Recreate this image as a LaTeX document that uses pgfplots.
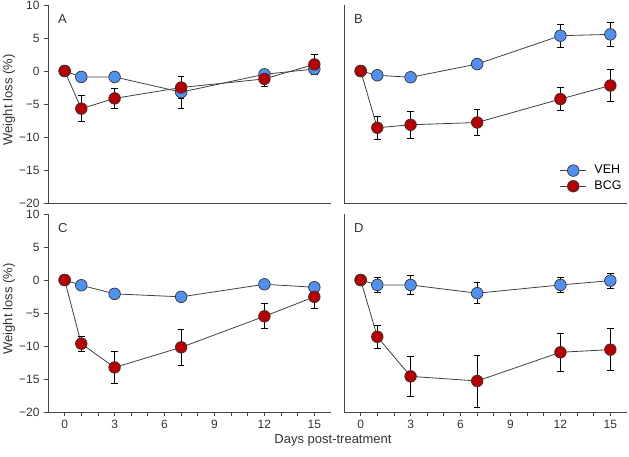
\documentclass[border=0pt]{standalone}
\usepackage{fontspec}
\setmainfont{Liberation Sans}
\usepackage{pgfplots}
\pgfplotsset{compat=1.18}
\definecolor{vehc}{RGB}{80,145,240}
\definecolor{bcgc}{RGB}{185,0,0}
\definecolor{axc}{RGB}{70,70,70}
\pgfplotsset{
  panel/.style={
    scale only axis, width=283pt, height=198pt,
    xmin=-1, xmax=16, ymin=-20, ymax=10,
    axis x line*=bottom, axis y line*=left,
    axis line style={axc, line width=0.9pt, -},
    tick style={axc, line width=0.8pt},
    tick align=outside,
    major tick length=4pt, minor tick length=4pt,
    /pgf/number format/assume math mode=true,
    ticklabel style={font=\fontsize{12}{14}\selectfont, text=black!80},
    clip=false,
  },
  veh/.style={color=black!75, line width=0.8pt, mark=*, mark size=5.8pt,
    mark options={fill=vehc, draw=black!80, line width=0.7pt},
    error bars/.cd, y dir=both, y explicit, error mark options={rotate=90, mark size=3.3pt, line width=0.8pt, black}, error bar style={line width=0.8pt, black}},
  bcg/.style={color=black!75, line width=0.8pt, mark=*, mark size=5.8pt,
    mark options={fill=bcgc, draw=black!80, line width=0.7pt},
    error bars/.cd, y dir=both, y explicit, error mark options={rotate=90, mark size=3.3pt, line width=0.8pt, black}, error bar style={line width=0.8pt, black}},
  leftticks/.style={ytick={-20,-15,-10,-5,0,5,10}, yticklabels={−20,−15,−10,−5,0,5,10}},
  noyticks/.style={ytick=\empty},
  bottomticks/.style={xtick={0,3,6,9,12,15}, minor xtick={1,2,4,5,7,8,10,11,13,14}},
  noxticks/.style={xtick=\empty},
}
\begin{document}
\fontsize{13}{15}\selectfont
\begin{tikzpicture}
\useasboundingbox (0,0) rectangle (629pt,456pt);
% Panel A
\begin{axis}[panel, leftticks, noxticks, at={(48pt,253pt)}, anchor=south west]
\addplot[veh] coordinates {(0,0) +- (0,0) (1,-0.9) +- (0,0.3) (3,-0.9) +- (0,0.3) (7,-3.2) +- (0,2.4) (12,-0.5) +- (0,0.3) (15,0.3) +- (0,0.5)};
\addplot[bcg] coordinates {(0,0) +- (0,0) (1,-5.7) +- (0,2.0) (3,-4.15) +- (0,1.5) (7,-2.5) +- (0,1.7) (12,-1.2) +- (0,1.1) (15,1.0) +- (0,1.5)};
\node[anchor=west, font=\fontsize{13}{15}\selectfont, text=black!80] at (rel axis cs:0.02,0.93) {A};
\end{axis}
% Panel B
\begin{axis}[panel, noyticks, noxticks, at={(344pt,253pt)}, anchor=south west,
  legend style={draw=none, fill=none, at={(0.985,0.124)}, anchor=east, font=\fontsize{12.5}{14}\selectfont, row sep=3pt, inner sep=0pt,
    nodes={inner sep=1pt}, /tikz/every odd column/.append style={column sep=7pt}},
  legend cell align=left,
  legend image code/.code={\draw[mark repeat=2,mark phase=2] plot coordinates {(0cm,0cm)(0.45cm,0cm)(0.9cm,0cm)};}]
\addplot[veh] coordinates {(0,0) +- (0,0) (1,-0.65) +- (0,0.3) (3,-0.95) +- (0,0.3) (7,1.05) +- (0,0.3) (12,5.35) +- (0,1.7) (15,5.55) +- (0,1.8)};
\addlegendentry{VEH}
\addplot[bcg] coordinates {(0,0) +- (0,0) (1,-8.6) +- (0,1.7) (3,-8.15) +- (0,2.0) (7,-7.8) +- (0,2.0) (12,-4.25) +- (0,1.7) (15,-2.2) +- (0,2.4)};
\addlegendentry{BCG}
\node[anchor=west, font=\fontsize{13}{15}\selectfont, text=black!80] at (rel axis cs:0.02,0.93) {B};
\end{axis}
% Panel C
\begin{axis}[panel, leftticks, bottomticks, at={(48pt,44pt)}, anchor=south west]
\addplot[veh] coordinates {(0,0) +- (0,0) (1,-0.8) +- (0,0.3) (3,-2.1) +- (0,0.4) (7,-2.55) +- (0,0.5) (12,-0.65) +- (0,0.6) (15,-1.1) +- (0,0.4)};
\addplot[bcg] coordinates {(0,0) +- (0,0) (1,-9.65) +- (0,1.1) (3,-13.25) +- (0,2.4) (7,-10.2) +- (0,2.7) (12,-5.5) +- (0,1.9) (15,-2.55) +- (0,1.8)};
\node[anchor=west, font=\fontsize{13}{15}\selectfont, text=black!80] at (rel axis cs:0.02,0.93) {C};
\end{axis}
% Panel D
\begin{axis}[panel, noyticks, bottomticks, at={(344pt,44pt)}, anchor=south west]
\addplot[veh] coordinates {(0,0) +- (0,0) (1,-0.75) +- (0,1.2) (3,-0.75) +- (0,1.4) (7,-2.0) +- (0,1.6) (12,-0.75) +- (0,1.1) (15,-0.1) +- (0,1.1)};
\addplot[bcg] coordinates {(0,0) +- (0,0) (1,-8.6) +- (0,1.7) (3,-14.6) +- (0,3.0) (7,-15.3) +- (0,3.95) (12,-10.95) +- (0,2.9) (15,-10.55) +- (0,3.2)};
\node[anchor=west, font=\fontsize{13}{15}\selectfont, text=black!80] at (rel axis cs:0.02,0.93) {D};
\end{axis}
\node[rotate=90, font=\fontsize{13}{15}\selectfont, text=black!80] at (9pt,356pt) {Weight loss (\%)};
\node[rotate=90, font=\fontsize{13}{15}\selectfont, text=black!80] at (9pt,147pt) {Weight loss (\%)};
\node[font=\fontsize{13}{15}\selectfont, text=black!80] at (333pt,16pt) {Days post-treatment};
\end{tikzpicture}
\end{document}
